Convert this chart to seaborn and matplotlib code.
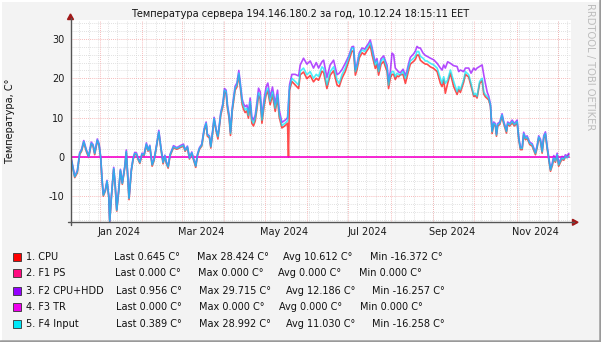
import numpy as np
import pandas as pd
import matplotlib
matplotlib.use("Agg")
import matplotlib.pyplot as plt
from matplotlib.lines import Line2D
from matplotlib.patches import Polygon, Rectangle
import seaborn as sns

# ---- data -------------------------------------------------------------
period_start = "2023-12-10 18:15:11"
period_days = 366

# days elapsed since period_start for every sample
day_offset = [
    0.4, 3.1, 5.0, 6.7, 8.1, 9.7, 11.6, 13.3, 15.2, 16.5, 17.7, 19.6, 20.9, 22.1, 23.1, 24.0,
    25.5, 26.7, 28.0, 28.7, 29.9, 31.6, 32.6, 33.8, 35.3, 36.5, 37.9, 39.7, 40.8, 42.8, 44.5,
    45.8, 47.0, 48.2, 49.4, 50.7, 52.3, 53.8, 55.5, 56.7, 58.0, 59.7, 61.1, 62.4, 64.6, 66.0,
    67.7, 69.0, 70.1, 71.4, 72.8, 75.3, 77.7, 80.2, 82.6, 83.8, 85.5, 87.0, 88.7, 89.9, 91.6,
    92.8, 94.3, 96.0, 97.7, 99.2, 100.1, 101.6, 102.6, 104.1, 105.0, 106.5, 107.8, 108.9,
    109.9, 111.4, 112.6, 113.8, 114.8, 116.0, 117.0, 118.2, 119.2, 120.4, 121.7, 123.1,
    124.3, 125.5, 126.5, 127.7, 129.0, 130.1, 131.4, 132.6, 133.8, 135.1, 136.3, 137.5,
    138.7, 140.0, 141.6, 143.1, 144.3, 146.0, 147.7, 149.7, 151.4, 152.6, 154.6, 157.0,
    158.7, 159.4, 160.2, 161.9, 164.3, 166.8, 168.0, 170.4, 172.9, 175.3, 177.7, 179.7,
    181.4, 183.9, 185.1, 187.5, 189.9, 192.4, 194.9, 196.5, 198.5, 200.9, 203.4, 205.8,
    207.0, 208.3, 209.5, 211.2, 213.2, 215.1, 216.8, 218.0, 219.2, 220.5, 221.7, 222.9,
    224.1, 225.3, 227.1, 229.0, 230.2, 231.5, 232.6, 233.9, 235.1, 236.3, 237.5, 238.8,
    240.0, 241.2, 243.2, 244.9, 246.1, 247.3, 248.5, 250.9, 252.2, 253.4, 254.6, 255.8,
    257.8, 259.5, 260.7, 263.2, 265.6, 268.1, 270.5, 271.7, 272.9, 274.1, 275.8, 277.8,
    280.2, 282.7, 283.9, 285.1, 287.5, 288.8, 291.2, 292.9, 294.9, 296.1, 297.3, 299.2,
    301.0, 302.2, 303.4, 304.7, 305.8, 307.1, 308.3, 309.5, 310.7, 311.5, 312.4, 313.9,
    315.6, 316.6, 317.3, 318.8, 319.7, 321.2, 323.0, 324.6, 326.6, 327.8, 329.0, 330.3,
    331.4, 332.7, 333.9, 335.8, 337.6, 340.0, 341.2, 342.4, 343.7, 344.9, 346.1, 347.3,
    348.5, 349.7, 351.0, 352.2, 353.4, 354.6, 355.9, 357.0, 358.3, 359.5, 360.7, 361.9,
    363.2, 364.4,
]

# 5. F4 Input
f4_input = [
    -0.3, -5.0, -3.7, 0.9, 1.7, 3.9, 1.7, 0.1, 3.5, 3.0, 0.9, 4.3, 3.2, -0.2, -5.9, -9.7,
    -8.4, -6.1, -10.0, -16.258, -10.1, -2.9, -6.7, -13.5, -8.4, -3.3, -6.7, -2.5, 1.4, -10.5, -3.3,
    -0.4, 0.9, 0.8, -0.4, -1.4, 0.8, 0.5, 3.3, 1.7, 2.8, -2.0, -0.7, 1.8, 6.4, 2.6,
    -1.4, 0.3, -1.4, -2.5, 0.5, 2.6, 2.2, 2.6, 3.0, 1.7, 2.6, -0.3, 1.1, -0.4, -2.3,
    0.5, 2.2, 3.0, 6.9, 8.6, 5.6, 5.2, 2.6, 6.9, 9.8, 6.9, 5.2, 8.1,
    11.1, 13.2, 17.0, 16.6, 12.8, 10.3, 6.0, 11.9, 14.5, 17.5, 18.3, 21.3,
    17.9, 14.1, 12.9, 12.0, 12.4, 10.6, 14.1, 9.4, 8.6, 9.9, 12.9, 16.3,
    15.5, 9.4, 13.8, 16.6, 17.5, 14.1, 16.6, 12.4, 15.8, 10.9, 8.0, 8.6,
    9.2, 13.0, 17.6, 20.0, 19.2, 18.3, 21.8, 22.6, 20.9, 21.7, 20.0, 21.0,
    20.5, 22.9, 22.5, 18.3, 21.7, 22.9, 19.6, 18.7, 20.9, 22.6, 25.1, 27.7,
    27.7, 21.7, 23.0, 26.0, 27.2, 26.8, 27.7, 28.3, 28.992, 27.2, 25.1, 23.4,
    24.4, 21.7, 24.4, 25.1, 23.8, 22.6, 18.3, 20.9, 21.7, 21.7, 20.4, 21.3,
    21.0, 20.9, 21.7, 20.0, 21.3, 23.0, 24.4, 25.1, 25.6, 26.8, 26.8, 25.6,
    25.1, 24.4, 24.4, 23.8, 23.4, 22.6, 20.0, 18.7, 20.4, 18.7, 19.6, 22.1,
    19.2, 16.6, 17.9, 17.1, 19.6, 21.7, 20.9, 18.7, 15.8, 16.2, 15.4, 19.2,
    20.0, 16.6, 15.8, 15.4, 14.9, 13.2, 6.4, 8.6, 8.2, 5.6, 8.2, 8.6,
    10.7, 9.0, 8.2, 6.5, 8.6, 8.2, 9.0, 8.2, 9.0, 4.7, 2.2, 2.2,
    5.9, 4.7, 5.1, 3.5, 3.1, 0.9, 2.6, 5.1, 4.2, 1.3, 5.1, 6.0,
    2.6, -0.2, -3.3, -2.0, -0.2, -1.0, 0.6, -2.0, -1.0, -0.2, -0.6, 0.2,
    -0.2, 0.389,
]

# 3. F2 CPU+HDD
f2_cpu_hdd = [
    0.0, -4.8, -3.4, 1.1, 2.0, 4.2, 1.9, 0.3, 3.8, 3.2, 1.1, 4.6, 3.4, 0.0, -5.7, -9.4,
    -8.2, -5.9, -9.8, -16.257, -9.9, -2.6, -6.5, -13.3, -8.2, -3.1, -6.5, -2.3, 1.8, -10.3, -3.1,
    -0.2, 1.2, 1.1, -0.2, -1.2, 1.0, 0.7, 3.6, 1.9, 3.0, -1.8, -0.5, 2.0, 6.8, 2.8,
    -1.2, 0.5, -1.2, -2.3, 0.7, 2.9, 2.4, 2.9, 3.3, 1.9, 2.8, -0.1, 1.3, -0.2, -2.1,
    0.7, 2.4, 3.3, 7.2, 8.9, 5.8, 5.4, 2.8, 7.2, 10.1, 7.1, 5.4, 8.4,
    11.4, 13.6, 17.4, 17.0, 13.2, 10.7, 6.4, 12.3, 15.0, 18.0, 18.8, 22.0,
    18.5, 14.8, 13.6, 12.8, 13.2, 11.4, 15.0, 10.2, 9.4, 10.7, 13.8, 17.5,
    16.6, 10.3, 14.8, 17.9, 18.8, 15.2, 17.8, 13.5, 17.0, 12.0, 8.8, 9.4,
    10.0, 14.0, 18.4, 21.0, 21.0, 20.6, 23.4, 25.1, 23.6, 24.4, 22.6, 24.0,
    22.6, 24.2, 24.6, 20.2, 23.4, 24.6, 20.9, 21.3, 22.2, 23.8, 25.6, 28.0,
    28.1, 22.3, 23.6, 26.5, 27.7, 27.4, 28.3, 28.9, 29.715, 27.9, 25.8, 24.1,
    25.0, 22.4, 25.0, 25.7, 24.5, 23.3, 19.2, 21.8, 26.4, 26.0, 22.6, 22.1,
    21.6, 21.4, 22.3, 20.7, 22.0, 23.8, 25.3, 26.2, 26.9, 28.1, 27.7, 27.7,
    26.4, 25.8, 25.6, 25.1, 24.7, 23.8, 22.6, 22.1, 23.4, 22.6, 24.2, 23.8,
    23.2, 23.0, 21.7, 22.1, 21.7, 22.6, 22.6, 21.3, 22.6, 22.1, 22.6, 23.0,
    23.4, 20.9, 18.7, 16.5, 15.5, 13.5, 6.7, 8.9, 8.5, 5.9, 8.5, 8.9,
    11.0, 9.3, 8.5, 6.8, 8.9, 8.5, 9.4, 8.5, 9.4, 5.0, 2.5, 2.5,
    6.3, 5.0, 5.4, 3.8, 3.4, 1.2, 2.9, 5.4, 4.5, 1.6, 5.5, 6.4,
    2.9, 0.1, -3.0, -1.7, 0.4, -0.5, 1.0, -1.6, -0.6, 0.2, -0.2, 0.6,
    0.3, 0.956,
]

# 1. CPU
cpu = [
    -0.5, -5.2, -4.0, 0.7, 1.5, 3.7, 1.4, -0.1, 3.3, 2.8, 0.6, 4.1, 3.0, -0.4, -6.1, -9.9,
    -8.6, -6.3, -10.2, -16.372, -10.3, -3.1, -6.9, -13.7, -8.6, -3.5, -6.9, -2.7, 1.2, -10.8, -3.5,
    -0.6, 0.7, 0.6, -0.6, -1.6, 0.6, 0.3, 3.1, 1.5, 2.6, -2.3, -0.9, 1.6, 6.2, 2.4,
    -1.7, 0.1, -1.6, -2.8, 0.3, 2.4, 2.0, 2.4, 2.8, 1.5, 2.4, -0.5, 0.9, -0.6, -2.6,
    0.3, 2.0, 2.8, 6.6, 8.3, 5.3, 4.9, 2.3, 6.6, 9.5, 6.6, 4.6, 7.8,
    10.7, 12.8, 16.6, 16.1, 12.3, 9.8, 5.5, 11.4, 14.0, 17.0, 17.8, 20.8,
    17.3, 13.4, 12.2, 11.3, 11.7, 9.9, 13.4, 8.6, 7.9, 9.2, 12.2, 15.6,
    14.8, 8.6, 13.0, 15.9, 16.8, 13.3, 15.8, 11.6, 15.0, 10.2, 7.4, 8.0,
    8.6, 0.0, 17.0, 19.2, 18.3, 17.4, 20.9, 21.6, 19.9, 20.7, 19.1, 20.0,
    19.5, 21.8, 21.5, 17.4, 20.8, 21.9, 18.3, 17.9, 20.0, 21.7, 24.3, 26.9,
    26.9, 20.8, 22.2, 25.2, 26.5, 26.0, 27.0, 27.6, 28.424, 26.0, 24.2, 22.5,
    23.6, 20.8, 23.6, 24.3, 23.0, 21.7, 17.4, 20.1, 21.0, 21.0, 19.7, 20.6,
    20.4, 20.9, 21.0, 18.7, 20.4, 22.1, 23.6, 24.3, 24.8, 25.9, 25.9, 24.6,
    24.0, 23.6, 23.6, 22.9, 22.5, 21.7, 18.7, 17.9, 19.6, 16.2, 18.7, 21.3,
    17.9, 15.9, 17.2, 16.4, 19.0, 21.0, 20.3, 18.0, 15.4, 15.6, 15.0, 18.7,
    19.4, 16.0, 15.3, 14.9, 14.5, 12.9, 6.0, 8.3, 7.9, 5.3, 7.9, 8.3,
    10.4, 8.7, 7.9, 6.1, 8.3, 7.9, 8.7, 7.9, 8.7, 4.4, 1.9, 1.9,
    5.6, 4.4, 4.8, 3.2, 2.8, 0.6, 2.3, 4.8, 3.9, 1.0, 4.8, 5.7,
    2.3, -0.5, -3.6, -2.3, -0.5, -1.3, 0.3, -2.3, -1.3, -0.5, -0.8, 0.0,
    -0.1, 0.645,
]

# the two fan sensors report zero for the whole year
f1_ps = [0.0] * len(day_offset)
f3_tr = [0.0] * len(day_offset)

series_names = ["1. CPU", "2. F1 PS", "3. F2 CPU+HDD", "4. F3 TR", "5. F4 Input"]
series_colors = ["#ff0000", "#ff0a80", "#9400ff", "#ee00ee", "#00e8f8"]
stat_last = ["0.645", "0.000", "0.956", "0.000", "0.389"]
stat_max = ["28.424", "0.000", "29.715", "0.000", "28.992"]
stat_avg = ["10.612", "0.000", "12.186", "0.000", "11.030"]
stat_min = ["-16.372", "0.000", "-16.257", "0.000", "-16.258"]

y_major = [-10, 0, 10, 20, 30]
x_label_dates = ["2024-01-15", "2024-03-15", "2024-05-15", "2024-07-15", "2024-09-15", "2024-11-15"]
x_label_text = ["Jan 2024", "Mar 2024", "May 2024", "Jul 2024", "Sep 2024", "Nov 2024"]

title = "Температура сервера 194.146.180.2 за год, 10.12.24 18:15:11 EET"
ylabel = "Температура, C°"
watermark = "RRDTOOL / TOBI OETIKER"

# ---- frame ------------------------------------------------------------
sns.set_theme(style="white")
plt.rcParams["font.family"] = ["DejaVu Sans"]

W, H = 601, 342
fig = plt.figure(figsize=(W / 100, H / 100), dpi=100, facecolor="#f3f3f3")


def fx(px):
    return px / W


def fy(py):
    return 1 - py / H


left, right, top, bottom = 70.5, 571.0, 20.0, 222.3
ax = fig.add_axes([fx(left), fy(bottom), fx(right - left), fy(top) - fy(bottom)])
ax.set_facecolor("white")

t0 = pd.Timestamp(period_start)
times = t0 + pd.to_timedelta(day_offset, unit="D")

frames = []
for name, vals in zip(series_names, [cpu, f1_ps, f2_cpu_hdd, f3_tr, f4_input]):
    frames.append(pd.DataFrame({"time": times, "value": vals, "series": name}))
df = pd.concat(frames, ignore_index=True)

sns.lineplot(
    data=df, x="time", y="value", hue="series", hue_order=series_names,
    palette=dict(zip(series_names, series_colors)), estimator=None, errorbar=None,
    linewidth=1.2, alpha=0.7, legend=False, ax=ax, zorder=3,
)

t_end = t0 + pd.Timedelta(days=period_days)
ax.set_xlim(t0, t_end)
ax.set_ylim(-16.55, 34.8)

# grid: weekly / every 2 degrees (grey), monthly / every 10 degrees (red)
minor_kw = dict(color="#d6d6d6", linewidth=0.6, linestyle=(0, (1, 1.5)), zorder=1)
major_kw = dict(color="#f4a4a4", linewidth=0.6, linestyle=(0, (1, 1.5)), zorder=1.5)
for wk in pd.date_range("2023-12-17", t_end, freq="W-SUN"):
    ax.axvline(wk, **minor_kw)
for v in range(-16, 35, 2):
    if v % 10:
        ax.axhline(v, **minor_kw)
for ms in pd.date_range("2024-01-01", t_end, freq="MS"):
    ax.axvline(ms, **major_kw)
for v in y_major:
    ax.axhline(v, **major_kw)

ax.set_yticks(y_major)
ax.set_yticklabels([str(v) for v in y_major])
ax.set_xticks(pd.to_datetime(x_label_dates))
ax.set_xticklabels(x_label_text)
ax.tick_params(axis="both", length=0, labelsize=7, colors="#1a1a1a")
ax.tick_params(axis="y", pad=4.5)
ax.tick_params(axis="x", pad=3.5)
ax.set_xlabel("")
ax.set_ylabel("")
for sp in ax.spines.values():
    sp.set_visible(False)

# axes with arrow heads
axis_col = "#555555"
arrow_col = "#a01818"
fig.add_artist(Line2D([fx(left), fx(left)], [fy(bottom + 3), fy(18)], color=axis_col, linewidth=1.0))
fig.add_artist(Line2D([fx(left - 3), fx(574)], [fy(bottom), fy(bottom)], color=axis_col, linewidth=1.0))
fig.add_artist(Polygon([[fx(left - 3), fy(19.5)], [fx(left + 3), fy(19.5)], [fx(left), fy(14)]],
                       closed=True, color=arrow_col, transform=fig.transFigure))
fig.add_artist(Polygon([[fx(572.5), fy(bottom - 3)], [fx(572.5), fy(bottom + 3)], [fx(578), fy(bottom)]],
                       closed=True, color=arrow_col, transform=fig.transFigure))

# texts
fig.text(fx(300), fy(14), title, ha="center", va="center", fontsize=7, color="#111111")
fig.text(fx(10), fy(121), ylabel, ha="center", va="center", rotation=90, fontsize=7, color="#111111")
fig.text(fx(590), fy(67), watermark, ha="center", va="center", rotation=270, fontsize=7.2, color="#bcbcbc")

# legend rows
row_y = [256.5, 273.3, 290.5, 307.3, 324.3]
x_last = [114.3, 115.3, 116.3, 116.3, 116.3]
x_max = [196.7, 197.7, 198.7, 198.7, 198.7]
x_avg = [283.0, 278.3, 286.0, 279.3, 286.0]
x_min = [370.0, 359.3, 372.3, 360.3, 372.3]
for i, name in enumerate(series_names):
    yy = row_y[i]
    fig.add_artist(Rectangle((fx(13), fy(yy + 4)), fx(8), fy(0) - fy(8), transform=fig.transFigure,
                             facecolor=series_colors[i], edgecolor="#333333", linewidth=0.6))
    kw = dict(ha="left", va="center", fontsize=7, color="#111111")
    fig.text(fx(26), fy(yy), name, **kw)
    fig.text(fx(x_last[i]), fy(yy), f"Last {stat_last[i]} C°", **kw)
    fig.text(fx(x_max[i]), fy(yy), f"Max {stat_max[i]} C°", **kw)
    fig.text(fx(x_avg[i]), fy(yy), f"Avg {stat_avg[i]} C°", **kw)
    fig.text(fx(x_min[i]), fy(yy), f"Min {stat_min[i]} C°", **kw)

# bevelled outer border
fig.add_artist(Line2D([0, 1], [fy(0.5), fy(0.5)], color="#ffffff", linewidth=1.5))
fig.add_artist(Line2D([fx(0.5), fx(0.5)], [0, 1], color="#ffffff", linewidth=1.5))
fig.add_artist(Line2D([0, 1], [fy(340.8), fy(340.8)], color="#9a9a9a", linewidth=1.8))
fig.add_artist(Line2D([fx(599.8), fx(599.8)], [0, 1], color="#9a9a9a", linewidth=1.8))

fig.savefig("out.png", dpi=100, facecolor=fig.get_facecolor())
